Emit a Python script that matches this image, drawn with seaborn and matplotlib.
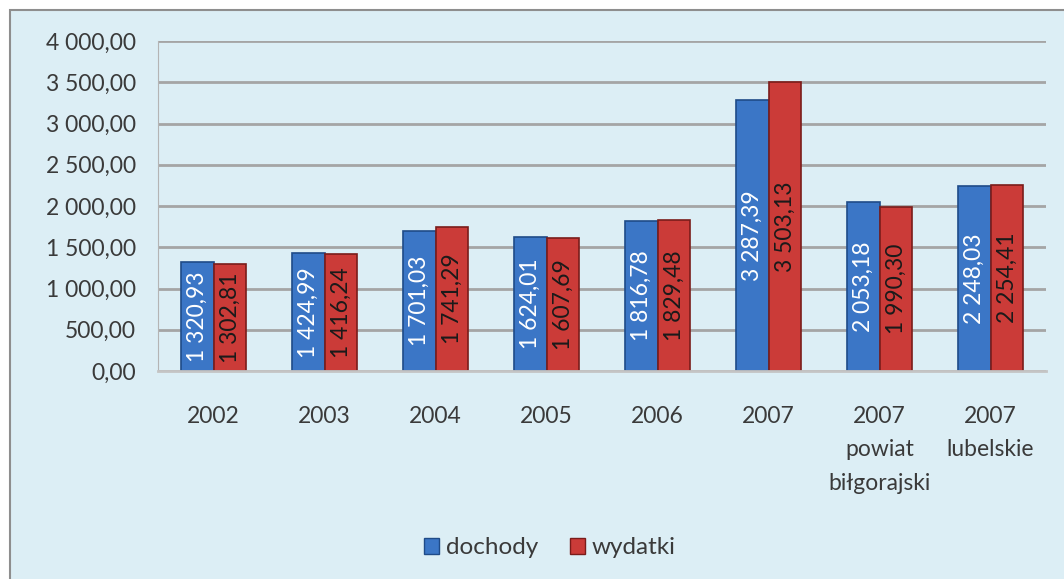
import pandas as pd
import matplotlib.pyplot as plt
import seaborn as sns
from matplotlib.patches import Rectangle, Patch

# dane z wykresu
categories = ['2002', '2003', '2004', '2005', '2006', '2007',
              '2007\npowiat\nbiłgorajski', '2007\nlubelskie']
dochody = [1320.93, 1424.99, 1701.03, 1624.01, 1816.78, 3287.39, 2053.18, 2248.03]
wydatki = [1302.81, 1416.24, 1741.29, 1607.69, 1829.48, 3503.13, 1990.30, 2254.41]
series = ['dochody', 'wydatki']
y_ticks = [0, 500, 1000, 1500, 2000, 2500, 3000, 3500, 4000]

colors = ['#3B76C6', '#CB3B38']
edge_colors = ['#1F4B88', '#7A1C1A']
label_colors = ['white', '#1a1a1a']

df = pd.DataFrame({
    'kategoria': categories * 2,
    'seria': [series[0]] * len(dochody) + [series[1]] * len(wydatki),
    'wartosc': dochody + wydatki,
})


def pl_fmt(v):
    # format polski: spacja jako separator tysięcy, przecinek dziesiętny
    return f"{v:,.2f}".replace(',', ' ').replace('.', ',')


sns.set_style('white')
plt.rcParams['font.family'] = ['Lato', 'DejaVu Sans']

W, H = 1064, 579
fig = plt.figure(figsize=(W / 100, H / 100), dpi=100)
fig.patches.append(Rectangle((10 / W, -0.01), 1.0, 1 - 10 / H + 0.01,
                             transform=fig.transFigure, facecolor='#DCEEF5',
                             edgecolor='#8E8E8E', lw=1.5, zorder=-10))

ax = fig.add_axes([158 / W, 1 - 371 / H, (1046 - 158) / W, (371 - 41) / H])
ax.set_facecolor('none')
ax.set_zorder(5)

sns.barplot(data=df, x='kategoria', y='wartosc', hue='seria', palette=colors,
            width=0.59, saturation=1, legend=False, ax=ax)

for i, cont in enumerate(ax.containers):
    for bar in cont:
        bar.set_edgecolor(edge_colors[i])
        bar.set_linewidth(1.2)
    vals = dochody if i == 0 else wydatki
    ax.bar_label(cont, labels=[pl_fmt(v) for v in vals], label_type='center',
                 rotation=90, color=label_colors[i], fontsize=16.5)

ax.set_ylim(0, 4000)
ax.set_yticks(y_ticks)
ax.set_yticklabels([pl_fmt(v) for v in y_ticks])
ax.set_xlim(-0.5, len(categories) - 0.5)
ax.set_xlabel('')
ax.set_ylabel('')

ax.set_axisbelow(True)
ax.yaxis.grid(True, color='#A5A5A5', lw=2)
for s in ['top', 'right']:
    ax.spines[s].set_visible(False)
ax.spines['left'].set_color('#B4B4B4')
ax.spines['bottom'].set_color('#C4C4C4')
ax.spines['bottom'].set_linewidth(2)

ax.tick_params(axis='y', length=7, width=2, color='#A5A5A5', pad=9,
               labelsize=16.5, labelcolor='#3A3A3A')
ax.tick_params(axis='x', which='major', length=0, pad=25,
               labelsize=16.5, labelcolor='#3A3A3A')
ax.set_xticks([k + 0.5 for k in range(-1, len(categories))], minor=True)
ax.tick_params(axis='x', which='minor', length=5, width=1.5, color='#B4B4B4')
for lbl in ax.get_xticklabels():
    lbl.set_linespacing(1.75)
    lbl.set_verticalalignment('top')

handles = [Patch(facecolor=colors[i], edgecolor=edge_colors[i], label=series[i])
           for i in range(2)]
fig.legend(handles=handles, loc='center', bbox_to_anchor=(550 / W, 1 - 548 / H),
           ncol=2, frameon=False, fontsize=17.5, handlelength=0.6, handleheight=0.6,
           handletextpad=0.3, columnspacing=1.3, labelcolor='#3A3A3A')

plt.savefig('out.png', dpi=100)
